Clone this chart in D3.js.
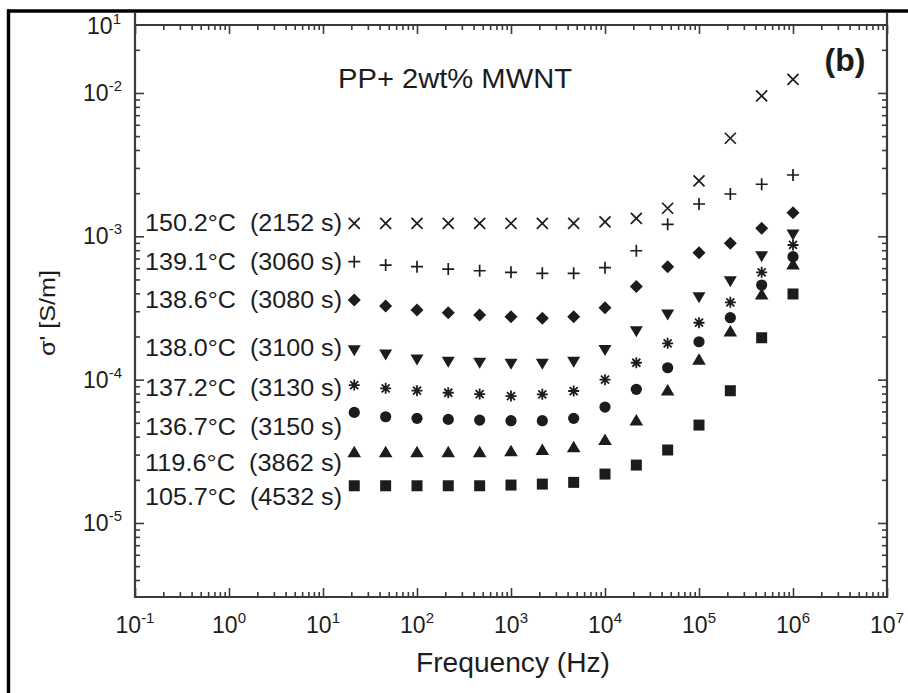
<!DOCTYPE html>
<html><head><meta charset="utf-8">
<script src="https://cdn.jsdelivr.net/npm/d3@7"></script>
<style>
body{margin:0;background:#fff}
text{font-family:"Liberation Sans",Arial,sans-serif;fill:#1c1c1c}
</style>
</head><body><svg id="c" width="908" height="693"></svg>
<script>
// ---------- data ----------
const freq = [21.5, 46.4, 100, 215, 464, 1000, 2154, 4642, 10000, 21544, 46416, 100000, 215443, 464159, 1000000];
const seriesLabels = ["150.2°C  (2152 s)", "139.1°C  (3060 s)", "138.6°C  (3080 s)", "138.0°C  (3100 s)",
                      "137.2°C  (3130 s)", "136.7°C  (3150 s)", "119.6°C  (3862 s)", "105.7°C  (4532 s)"];
const labelSigma = [1.238e-3, 6.62e-4, 3.59e-4, 1.662e-4, 8.74e-5, 4.67e-5, 2.62e-5, 1.516e-5];
const markerTypes = ["cross", "plus", "diamond", "tridown", "star", "circle", "triup", "square"];
const s150_2 = [1.23e-3,1.23e-3,1.23e-3,1.23e-3,1.23e-3,1.23e-3,1.23e-3,1.23e-3,1.26e-3,1.335e-3,1.57e-3,2.44e-3,4.83e-3,9.53e-3,1.246e-2];
const s139_1 = [6.65e-4,6.30e-4,6.14e-4,5.91e-4,5.75e-4,5.61e-4,5.52e-4,5.52e-4,6.04e-4,7.93e-4,1.213e-3,1.68e-3,1.973e-3,2.307e-3,2.678e-3];
const s138_6 = [3.59e-4,3.26e-4,3.06e-4,2.93e-4,2.82e-4,2.75e-4,2.68e-4,2.75e-4,3.18e-4,4.46e-4,6.14e-4,7.68e-4,8.94e-4,1.137e-3,1.461e-3];
const s138_0 = [1.59e-4,1.485e-4,1.37e-4,1.32e-4,1.30e-4,1.28e-4,1.28e-4,1.32e-4,1.60e-4,2.16e-4,2.82e-4,3.73e-4,4.82e-4,7.21e-4,1.021e-3];
const s137_2 = [9.17e-5,8.70e-5,8.37e-5,8.10e-5,7.93e-5,7.68e-5,7.90e-5,8.33e-5,1.0e-4,1.312e-4,1.792e-4,2.495e-4,3.463e-4,5.61e-4,8.70e-4];
const s136_7 = [5.91e-5,5.51e-5,5.37e-5,5.28e-5,5.22e-5,5.17e-5,5.17e-5,5.37e-5,6.44e-5,8.56e-5,1.211e-4,1.838e-4,2.704e-4,4.57e-4,7.21e-4];
const s119_6 = [3.14e-5,3.14e-5,3.14e-5,3.14e-5,3.14e-5,3.19e-5,3.26e-5,3.40e-5,3.83e-5,5.22e-5,8.46e-5,1.385e-4,2.183e-4,3.96e-4,6.41e-4];
const s105_7 = [1.818e-5,1.818e-5,1.818e-5,1.818e-5,1.818e-5,1.839e-5,1.868e-5,1.92e-5,2.194e-5,2.535e-5,3.23e-5,4.82e-5,8.37e-5,1.96e-4,3.96e-4];
const allSeries = [s150_2, s139_1, s138_6, s138_0, s137_2, s136_7, s119_6, s105_7];
const xTickExps = [-1, 0, 1, 2, 3, 4, 5, 6, 7];
const yTickExps = [-2, -3, -4, -5];
const yTopLabelExp = "1";
const title = "PP+ 2wt% MWNT";
const panelTag = "(b)";
const xTitle = "Frequency (Hz)";
const yTitle = "σ' [S/m]";

// ---------- layout ----------
const L = 135, R = 887, T = 25, B = 597;
const svg = d3.select("#c");
const x = d3.scaleLog().domain([1e-1, 1e7]).range([L, R]);
const y = d3.scaleLog().domain([3.045e-6, 2.98e-2]).range([B, T]);
const ink = "#1c1c1c", axisCol = "#3a3a3a";

// outer frame (top + left)
svg.append("line").attr("x1", 7).attr("x2", 908).attr("y1", 11).attr("y2", 11).attr("stroke", "#000").attr("stroke-width", 3.4);
svg.append("line").attr("x1", 8.5).attr("x2", 8.5).attr("y1", 9.5).attr("y2", 693).attr("stroke", "#000").attr("stroke-width", 3.4);

// ticks
const xMajor = xTickExps.map(e => Math.pow(10, e));
const xMinor = [];
for (let e = -1; e < 7; e++) for (let m = 2; m <= 9; m++) xMinor.push(m * Math.pow(10, e));
const yMajor = [-6,-5,-4,-3,-2].map(e => Math.pow(10, e)).filter(v => v >= y.domain()[0] && v <= y.domain()[1]);
const yMinor = [];
for (let e = -6; e < -1; e++) for (let m = 2; m <= 9; m++) { const v = m * Math.pow(10, e); if (v >= y.domain()[0] && v <= y.domain()[1]) yMinor.push(v); }

function styleAxis(g) {
  g.select(".domain").remove();
  g.selectAll("line").attr("stroke", axisCol).attr("stroke-width", 1.6);
  g.selectAll("text").remove();
}
const MJ = 9, MN = 5;
svg.append("g").attr("transform", `translate(0,${B})`).call(d3.axisBottom(x).tickValues(xMajor).tickSize(-MJ).tickFormat("")).call(styleAxis);
svg.append("g").attr("transform", `translate(0,${B})`).call(d3.axisBottom(x).tickValues(xMinor).tickSize(-MN).tickFormat("")).call(styleAxis);
svg.append("g").attr("transform", `translate(0,${T})`).call(d3.axisTop(x).tickValues(xMajor).tickSize(-MJ).tickFormat("")).call(styleAxis);
svg.append("g").attr("transform", `translate(0,${T})`).call(d3.axisTop(x).tickValues(xMinor).tickSize(-MN).tickFormat("")).call(styleAxis);
svg.append("g").attr("transform", `translate(${L},0)`).call(d3.axisLeft(y).tickValues(yMajor).tickSize(-MJ).tickFormat("")).call(styleAxis);
svg.append("g").attr("transform", `translate(${L},0)`).call(d3.axisLeft(y).tickValues(yMinor).tickSize(-MN).tickFormat("")).call(styleAxis);
svg.append("g").attr("transform", `translate(${R},0)`).call(d3.axisRight(y).tickValues(yMajor).tickSize(-MJ).tickFormat("")).call(styleAxis);
svg.append("g").attr("transform", `translate(${R},0)`).call(d3.axisRight(y).tickValues(yMinor).tickSize(-MN).tickFormat("")).call(styleAxis);

// plot frame
const fr = svg.append("g").attr("stroke", axisCol).attr("stroke-width", 2.2).attr("fill", "none");
fr.append("line").attr("x1", L).attr("x2", R).attr("y1", B).attr("y2", B);
fr.append("line").attr("x1", L).attr("x2", R).attr("y1", T).attr("y2", T);
fr.append("line").attr("x1", L).attr("x2", L).attr("y1", 12).attr("y2", B + 1);
fr.append("line").attr("x1", R).attr("x2", R).attr("y1", 12).attr("y2", B + 1);

// tick labels
const FS = 23, SUP = 15;
xTickExps.forEach(e => {
  const t = svg.append("text").attr("x", x(Math.pow(10, e))).attr("y", 633).attr("text-anchor", "middle").attr("font-size", FS);
  t.append("tspan").text("10");
  t.append("tspan").attr("font-size", SUP).attr("dy", -10).text(String(e));
});
yTickExps.forEach(e => {
  const t = svg.append("text").attr("x", 122).attr("y", y(Math.pow(10, e)) + 8).attr("text-anchor", "end").attr("font-size", FS);
  t.append("tspan").text("10");
  t.append("tspan").attr("font-size", SUP).attr("dy", -10).text(String(e));
});
{
  const t = svg.append("text").attr("x", 121).attr("y", T + 9).attr("text-anchor", "end").attr("font-size", FS);
  t.append("tspan").text("10");
  t.append("tspan").attr("font-size", SUP).attr("dy", -10).text(yTopLabelExp);
}

// axis titles
svg.append("text").attr("x", 416).attr("y", 672).attr("font-size", 27).attr("textLength", 194).attr("lengthAdjust", "spacingAndGlyphs").text(xTitle);
svg.append("text").attr("transform", "translate(55,356) rotate(-90)").attr("font-size", 22).attr("textLength", 86).attr("lengthAdjust", "spacingAndGlyphs").text(yTitle);

// title and tag
svg.append("text").attr("x", 338).attr("y", 88).attr("font-size", 28).attr("textLength", 234).attr("lengthAdjust", "spacingAndGlyphs").text(title);
svg.append("text").attr("x", 845).attr("y", 71).attr("text-anchor", "middle").attr("font-size", 32).attr("font-weight", "bold").text(panelTag);

// series labels
seriesLabels.forEach((lab, i) => {
  svg.append("text").attr("x", 145).attr("y", y(labelSigma[i]) + 8).attr("font-size", 23)
    .attr("textLength", 197).attr("lengthAdjust", "spacingAndGlyphs").style("white-space", "pre").text(lab);
});

// markers
function markerPath(type) {
  switch (type) {
    case "cross": return "M-5.5,-5.5L5.5,5.5M-5.5,5.5L5.5,-5.5";
    case "plus": return "M-6,0L6,0M0,-6L0,6";
    case "star": return "M-5.5,0L5.5,0M0,-5.5L0,5.5M-4,-4L4,4M-4,4L4,-4";
    case "diamond": return "M0,-6.5L6.5,0L0,6.5L-6.5,0Z";
    case "tridown": return "M-6.5,-5.5L6.5,-5.5L0,5.5Z";
    case "triup": return "M-6.8,5.5L6.8,5.5L0,-6Z";
    case "square": return "M-5.5,-5.5L5.5,-5.5L5.5,5.5L-5.5,5.5Z";
    case "circle": return "M5.6,0A5.6,5.6 0 1,1 -5.6,0A5.6,5.6 0 1,1 5.6,0Z";
  }
}
const strokeTypes = new Set(["cross", "plus", "star"]);
allSeries.forEach((vals, i) => {
  const type = markerTypes[i];
  const pts = vals.map((v, j) => ({ f: freq[j], s: v }));
  svg.append("g").selectAll("path").data(pts).join("path")
    .attr("transform", d => `translate(${x(d.f)},${y(d.s)})`)
    .attr("d", markerPath(type))
    .attr("fill", strokeTypes.has(type) ? "none" : ink)
    .attr("stroke", strokeTypes.has(type) ? ink : "none")
    .attr("stroke-width", type === "star" ? 1.8 : 1.7);
});
</script>
</body></html>
